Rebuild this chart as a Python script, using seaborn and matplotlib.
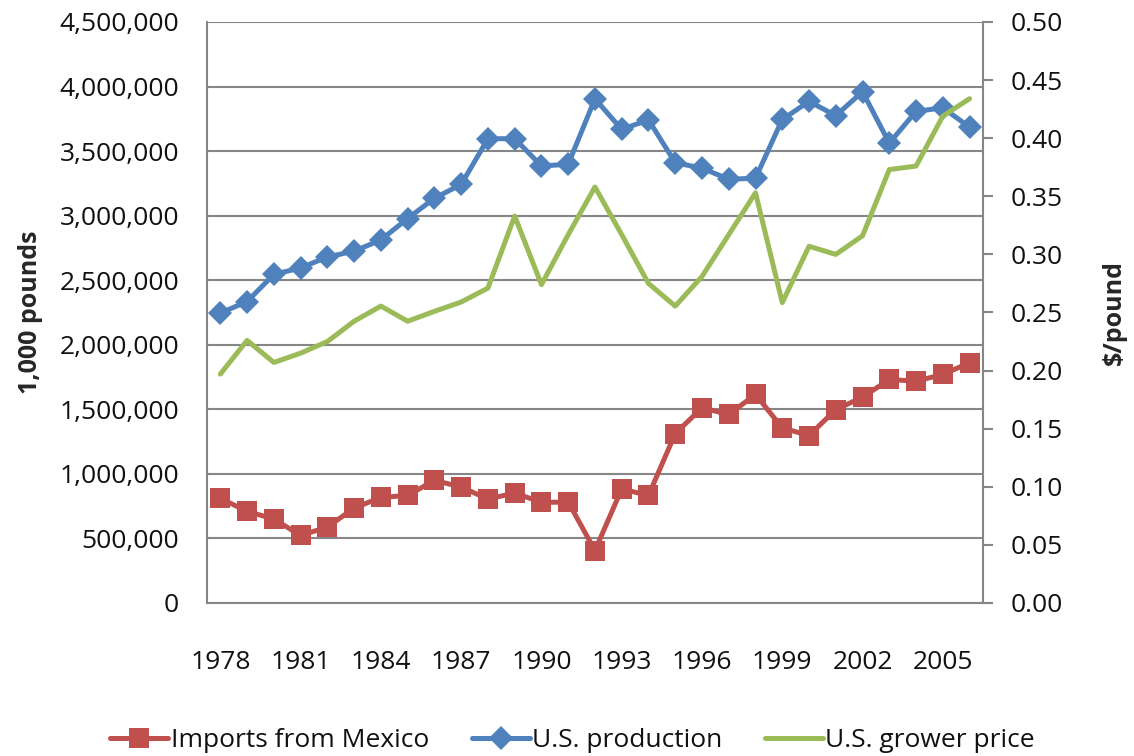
import matplotlib
matplotlib.use("Agg")
import matplotlib.pyplot as plt
import seaborn as sns
import numpy as np
from matplotlib.ticker import FuncFormatter, FixedLocator

# --- data ---
years = list(range(1978, 2007))
imports_mexico = [810000, 710000, 650000, 523000, 588000, 735000, 818000, 833000, 950000, 898000,
                  805000, 852000, 779000, 782000, 406000, 883000, 833000, 1312000, 1512000, 1460000,
                  1615000, 1356000, 1297000, 1498000, 1594000, 1731000, 1718000, 1770000, 1861000]
us_production = [2245000, 2335000, 2545000, 2595000, 2680000, 2725000, 2812000, 2978000, 3135000, 3242000,
                 3595000, 3597000, 3385000, 3398000, 3905000, 3668000, 3742000, 3410000, 3368000, 3282000,
                 3290000, 3745000, 3885000, 3775000, 3960000, 3562000, 3808000, 3835000, 3686000]
grower_price = [0.197, 0.226, 0.207, 0.215, 0.225, 0.2425, 0.2555, 0.2425, 0.251, 0.259,
                0.271, 0.333, 0.274, 0.317, 0.358, 0.317, 0.275, 0.2555, 0.281, 0.317,
                0.353, 0.2585, 0.307, 0.300, 0.316, 0.373, 0.376, 0.419, 0.434]
label_years = list(range(1978, 2007, 3))

RED, BLUE, GREEN, GRID = "#C0504D", "#4F81BD", "#9BBB59", "#868686"

sns.set_style("white")
plt.rcParams["font.family"] = ["Open Sans", "DejaVu Sans"]
plt.rcParams["font.size"] = 19
plt.rcParams["text.color"] = "#111111"

fig, ax = plt.subplots(figsize=(11.34, 7.56), dpi=100)
fig.subplots_adjust(left=0.1825, right=0.8668, top=0.9709, bottom=0.2024)

sns.lineplot(x=years, y=imports_mexico, ax=ax, color=RED, linewidth=3.6, marker="s",
             markersize=14, markeredgewidth=0, label="Imports from Mexico", legend=False)
sns.lineplot(x=years, y=us_production, ax=ax, color=BLUE, linewidth=3.6, marker="D",
             markersize=12, markeredgewidth=0, label="U.S. production", legend=False)

ax2 = ax.twinx()
sns.lineplot(x=years, y=grower_price, ax=ax2, color=GREEN, linewidth=3.6,
             label="U.S. grower price", legend=False)

# left axis
ax.set_ylim(0, 4500000)
ax.set_yticks(np.arange(0, 4500001, 500000))
ax.yaxis.set_major_formatter(FuncFormatter(lambda v, p: f"{int(v):,}"))
ax.yaxis.grid(True, color=GRID, linewidth=1.5)
ax.set_axisbelow(True)
ax.tick_params(axis="y", length=0, pad=20, labelsize=19, labelcolor="#111111")
ax.set_ylabel("1,000 pounds", fontsize=18, fontweight="bold", labelpad=12)

# right axis
ax2.set_ylim(0, 0.5)
ax2.set_yticks(np.arange(0, 0.501, 0.05))
ax2.yaxis.set_major_formatter(FuncFormatter(lambda v, p: f"{v:.2f}"))
ax2.tick_params(axis="y", length=7, width=1.5, color=GRID, pad=13, labelsize=19,
                labelcolor="#111111")
ax2.set_ylabel(r"\$/pound", fontsize=18, fontweight="bold", labelpad=28)

# category-style x axis
ax.set_xlim(1977.5, 2006.5)
ax.set_xticks(label_years)
ax.set_xticklabels([str(y) for y in label_years])
ax.xaxis.set_minor_locator(FixedLocator(np.arange(1977.5, 2006.6, 1)))
ax.tick_params(axis="x", which="major", length=0, pad=34, labelsize=19, labelcolor="#111111")
ax.tick_params(axis="x", which="minor", length=7, width=1.5, color=GRID, direction="out")
ax.set_xlabel("")

for a in (ax, ax2):
    a.spines["top"].set_visible(False)
    for s in ("left", "right", "bottom"):
        a.spines[s].set_color(GRID)
        a.spines[s].set_linewidth(1.5)
ax.spines["right"].set_visible(False)
ax2.spines["left"].set_visible(False)
ax2.spines["bottom"].set_visible(False)

h1, l1 = ax.get_legend_handles_labels()
h2, l2 = ax2.get_legend_handles_labels()
fig.legend(h1 + h2, l1 + l2, loc="lower center", bbox_to_anchor=(0.505, -0.028), ncol=3,
           frameon=False, fontsize=19, handlelength=2.2, handletextpad=0.1,
           columnspacing=1.6, markerscale=1.0)

fig.savefig("out.png", dpi=100)
